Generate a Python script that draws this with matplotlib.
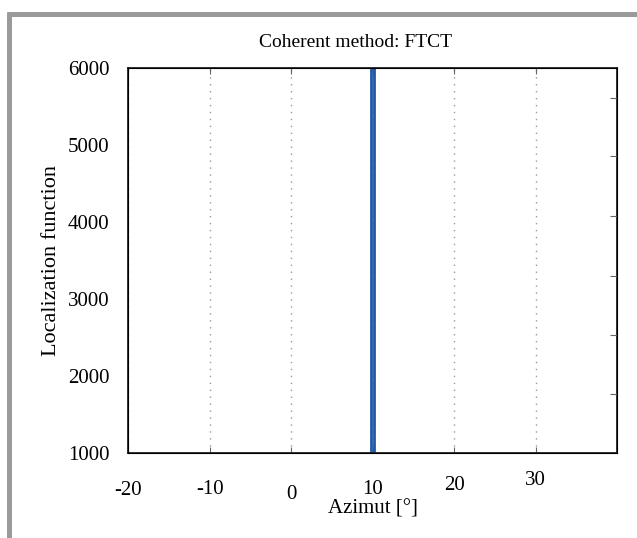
import numpy as np
import matplotlib
matplotlib.use("Agg")
import matplotlib.pyplot as plt
import matplotlib.transforms as mtransforms
from matplotlib.lines import Line2D

plt.rcParams['font.family'] = ['Liberation Serif', 'DejaVu Serif']

# peak of the localization function (two edges of the narrow peak)
azimut = [9.82, 9.82, 10.18, 10.18]
loc_func = [1000, 7000, 7000, 1000]

x_ticks = [-20, -10, 0, 10, 20, 30]
x_labels = ['-20', '-10', '0', '10', '20', '30']
# vertical shift of each x label in the original (pixels, + = up)
x_label_shift = [0, 1, -4, 1, 5, 10]
y_ticks = [1000, 2000, 3000, 4000, 5000, 6000]
right_ticks = [1760, 2530, 3300, 4080, 4850, 5610]

fig = plt.figure(figsize=(6.37, 5.38), dpi=100)
ax = fig.add_axes([0.201, 0.158, 0.768, 0.716])

ax.plot(azimut, loc_func, color='#1f58a8', lw=2.0, solid_joinstyle='miter')

ax.set_xlim(-20, 40)
ax.set_ylim(1000, 6000)
ax.set_xticks(x_ticks)
ax.set_xticklabels(x_labels)
ax.set_yticks(y_ticks)

ax.grid(axis='x', linestyle=(0, (1, 4)), color='#999999', lw=1)
ax.tick_params(axis='x', direction='in', top=True, length=4, labelsize=15,
               pad=20, color='#666666')

for lab, dy in zip(ax.get_xticklabels(), x_label_shift):
    off = mtransforms.ScaledTranslation(0, dy / 100.0, fig.dpi_scale_trans)
    lab.set_transform(lab.get_transform() + off)

for s in ax.spines.values():
    s.set_linewidth(1.3)
    s.set_color('#222222')

ax2 = ax.twinx()
ax2.set_ylim(1000, 6000)
ax2.set_yticks(right_ticks)
ax2.tick_params(axis='y', direction='in', length=5, labelright=False, color='#666666')
ax.tick_params(axis='y', left=False, right=False, labelsize=15, pad=10)

ax.set_title('Coherent method: FTCT', fontsize=14, pad=15, x=0.464)
ax.set_xlabel('Azimut [°]', fontsize=15, labelpad=-3)
ax.set_ylabel('Localization function', fontsize=16, labelpad=5)

# gray frame on the left and top
fig.add_artist(Line2D([0.0135, 0.0135], [0, 0.978], color='#9a9a9a', lw=3.6,
                      transform=fig.transFigure, solid_capstyle='butt'))
fig.add_artist(Line2D([0.0105, 1.0], [0.9745, 0.9745], color='#9a9a9a', lw=3.6,
                      transform=fig.transFigure, solid_capstyle='butt'))

fig.savefig('out.png', dpi=100)
